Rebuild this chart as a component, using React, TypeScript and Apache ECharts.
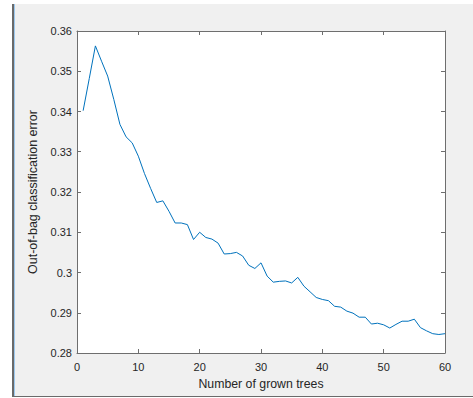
import React, { useEffect, useRef } from "react";
import * as echarts from "echarts";

const trees: number[] = Array.from({ length: 60 }, (_, i) => i + 1);
const oobError: number[] = [
  0.3402, 0.3482, 0.3563, 0.3525, 0.3488, 0.3430, 0.3368, 0.3337, 0.3322, 0.3289,
  0.3246, 0.3209, 0.3174, 0.3178, 0.3152, 0.3123, 0.3123, 0.3119, 0.3082, 0.3100,
  0.3087, 0.3083, 0.3073, 0.3046, 0.3047, 0.3050, 0.3041, 0.3018, 0.3010, 0.3024,
  0.2991, 0.2976, 0.2978, 0.2979, 0.2974, 0.2988, 0.2966, 0.2952, 0.2938, 0.2933,
  0.2930, 0.2916, 0.2914, 0.2904, 0.2899, 0.2889, 0.2889, 0.2872, 0.2874, 0.2870,
  0.2862, 0.2871, 0.2879, 0.2879, 0.2884, 0.2863, 0.2855, 0.2848, 0.2846, 0.2848,
];
const xLabel = "Number of grown trees";
const yLabel = "Out-of-bag classification error";

const FONT = "'Liberation Sans', Arial, Helvetica, sans-serif";
const AXIS_COLOR = "#6e6e6e";
const TEXT_COLOR = "#262626";

export default function App() {
  const ref = useRef<HTMLDivElement>(null);
  useEffect(() => {
    document.body.style.margin = "0";
    if (!ref.current) return;
    const chart = echarts.init(ref.current, undefined, { renderer: "svg" });
    const data = trees.map((t, i) => [t, oobError[i]]);
    const baseX = {
      type: "value" as const,
      min: 0,
      max: 60,
      interval: 10,
      splitLine: { show: false },
      axisLine: { show: true, onZero: false, lineStyle: { color: AXIS_COLOR, width: 1 } },
      axisTick: { show: true, inside: true, length: 4, lineStyle: { color: AXIS_COLOR } },
    };
    const baseY = {
      type: "value" as const,
      min: 0.28,
      max: 0.36,
      interval: 0.01,
      splitLine: { show: false },
      axisLine: { show: true, onZero: false, lineStyle: { color: AXIS_COLOR, width: 1 } },
      axisTick: { show: true, inside: true, length: 4, lineStyle: { color: AXIS_COLOR } },
    };
    chart.setOption({
      animation: false,
      backgroundColor: "#ffffff",
      textStyle: { fontFamily: FONT },
      graphic: [
        { type: "rect", shape: { x: 14, y: 4, width: 459, height: 392 }, style: { fill: "#f0f0f0" }, z: -10 },
        { type: "rect", shape: { x: 12, y: 4, width: 2, height: 393 }, style: { fill: "#6a6a6a" }, z: -9 },
        { type: "rect", shape: { x: 14, y: 4, width: 1, height: 392 }, style: { fill: "#9cc8ee" }, z: -9 },
        { type: "rect", shape: { x: 12, y: 396, width: 461, height: 1 }, style: { fill: "#6a6a6a" }, z: -9 },
        { type: "rect", shape: { x: 77, y: 31, width: 368, height: 322 }, style: { fill: "#ffffff" }, z: -8 },
      ],
      grid: { left: 77, right: 28, top: 31, bottom: 45, containLabel: false },
      xAxis: [
        {
          ...baseX,
          position: "bottom",
          name: xLabel,
          nameLocation: "middle",
          nameGap: 25,
          nameTextStyle: { fontSize: 12.3, color: TEXT_COLOR, fontFamily: FONT },
          axisLabel: { fontSize: 11, color: TEXT_COLOR, margin: 8, fontFamily: FONT },
        },
        { ...baseX, position: "top", axisLabel: { show: false } },
      ],
      yAxis: [
        {
          ...baseY,
          position: "left",
          name: yLabel,
          nameLocation: "middle",
          nameGap: 31,
          nameTextStyle: { fontSize: 12.5, color: TEXT_COLOR, fontFamily: FONT },
          axisLabel: {
            fontSize: 11,
            color: TEXT_COLOR,
            margin: 5,
            fontFamily: FONT,
            formatter: (v: number) => String(+v.toFixed(2)),
          },
        },
        { ...baseY, position: "right", axisLabel: { show: false } },
      ],
      series: [
        {
          type: "line",
          data,
          xAxisIndex: 0,
          yAxisIndex: 0,
          symbol: "none",
          lineStyle: { color: "#0072BD", width: 1 },
        },
      ],
    });
    return () => chart.dispose();
  }, []);
  return (
    <div
      ref={ref}
      style={{ position: "fixed", left: 0, top: 0, width: 473, height: 398 }}
    />
  );
}
